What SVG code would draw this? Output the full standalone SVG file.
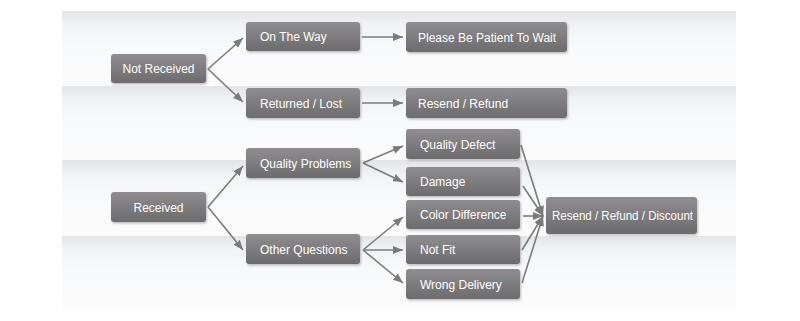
<svg xmlns="http://www.w3.org/2000/svg" width="800" height="321" viewBox="0 0 800 321">
<style>
.node rect{fill:url(#ng);filter:url(#sh);}
.node text{fill:#ffffff;font-family:"Liberation Sans",Arial,sans-serif;font-size:12px;}
.c{text-anchor:middle;}
#edges line{stroke:#7b7a7c;stroke-width:1.6;marker-end:url(#ah);}
</style>
<defs>
<linearGradient id="ng" x1="0" y1="0" x2="0" y2="1">
<stop offset="0" stop-color="#8f8d8f"/>
<stop offset="1" stop-color="#6c6b6d"/>
</linearGradient>
<linearGradient id="band" x1="0" y1="0" x2="0" y2="1">
<stop offset="0" stop-color="#e2e4e6"/>
<stop offset="0.18" stop-color="#f1f2f3"/>
<stop offset="0.45" stop-color="#f8f9fa"/>
<stop offset="1" stop-color="#fbfbfc"/>
</linearGradient>
<filter id="sh" x="-10%" y="-20%" width="130%" height="160%">
<feDropShadow dx="1" dy="1.5" stdDeviation="1" flood-color="#000" flood-opacity="0.25"/>
</filter>
<marker id="ah" viewBox="0 0 10 8" refX="10" refY="4" markerWidth="10" markerHeight="8" markerUnits="userSpaceOnUse" orient="auto">
<path d="M0,0 L10,4 L0,8 z" fill="#7b7a7c"/>
</marker>
</defs>
<rect width="800" height="321" fill="#ffffff"/>
<g id="panel">
<rect x="62" y="11" width="674" height="75" fill="url(#band)"/>
<rect x="62" y="86" width="674" height="74" fill="url(#band)"/>
<rect x="62" y="160" width="674" height="76" fill="url(#band)"/>
<rect x="62" y="236" width="674" height="74" fill="url(#band)"/>
</g>
<g id="edges">
<line x1="208" y1="69" x2="243" y2="38"/>
<line x1="208" y1="69" x2="243" y2="102"/>
<line x1="362" y1="37" x2="403" y2="37"/>
<line x1="362" y1="103" x2="403" y2="103"/>
<line x1="208" y1="207" x2="243" y2="166"/>
<line x1="208" y1="207" x2="243" y2="250"/>
<line x1="363" y1="163" x2="403" y2="146"/>
<line x1="363" y1="163" x2="403" y2="182"/>
<line x1="363" y1="250" x2="403" y2="217"/>
<line x1="363" y1="250" x2="403" y2="250"/>
<line x1="363" y1="250" x2="403" y2="283"/>
<line x1="521" y1="145" x2="543" y2="216"/>
<line x1="523" y1="186" x2="543" y2="216"/>
<line x1="523" y1="216" x2="543" y2="216"/>
<line x1="522" y1="250" x2="543" y2="216"/>
<line x1="522" y1="283" x2="543" y2="216"/>
</g>
<g id="n-not-received" class="node"><rect x="111" y="54" width="95" height="29" rx="3"/><text class="c" x="158.5" y="73">Not Received</text></g>
<g id="n-on-the-way" class="node"><rect x="246" y="22" width="114" height="29" rx="3"/><text x="260" y="41">On The Way</text></g>
<g id="n-returned-lost" class="node"><rect x="246" y="88" width="114" height="30" rx="3"/><text x="260" y="107.5">Returned / Lost</text></g>
<g id="n-please-wait" class="node"><rect x="406" y="22" width="161" height="30" rx="3"/><text x="418" y="41.5">Please Be Patient To Wait</text></g>
<g id="n-resend-refund" class="node"><rect x="406" y="88" width="161" height="30" rx="3"/><text x="418" y="107.5">Resend / Refund</text></g>
<g id="n-received" class="node"><rect x="111" y="192" width="95" height="30" rx="3"/><text class="c" x="158.5" y="211.5">Received</text></g>
<g id="n-quality-problems" class="node"><rect x="246" y="148" width="114" height="30" rx="3"/><text x="260" y="167.5">Quality Problems</text></g>
<g id="n-other-questions" class="node"><rect x="246" y="234" width="114" height="30" rx="3"/><text x="260" y="253.5">Other Questions</text></g>
<g id="n-quality-defect" class="node"><rect x="406" y="129" width="114" height="30" rx="3"/><text x="420" y="148.5">Quality Defect</text></g>
<g id="n-damage" class="node"><rect x="406" y="167" width="114" height="29" rx="3"/><text x="420" y="186">Damage</text></g>
<g id="n-color-difference" class="node"><rect x="406" y="200" width="114" height="29" rx="3"/><text x="420" y="219">Color Difference</text></g>
<g id="n-not-fit" class="node"><rect x="406" y="235" width="114" height="29" rx="3"/><text x="420" y="254">Not Fit</text></g>
<g id="n-wrong-delivery" class="node"><rect x="406" y="269" width="114" height="30" rx="3"/><text x="420" y="288.5">Wrong Delivery</text></g>
<g id="n-resend-refund-discount" class="node"><rect x="546" y="197" width="151" height="37" rx="3"/><text x="552" y="220" textLength="141" lengthAdjust="spacingAndGlyphs">Resend / Refund / Discount</text></g>
</svg>
